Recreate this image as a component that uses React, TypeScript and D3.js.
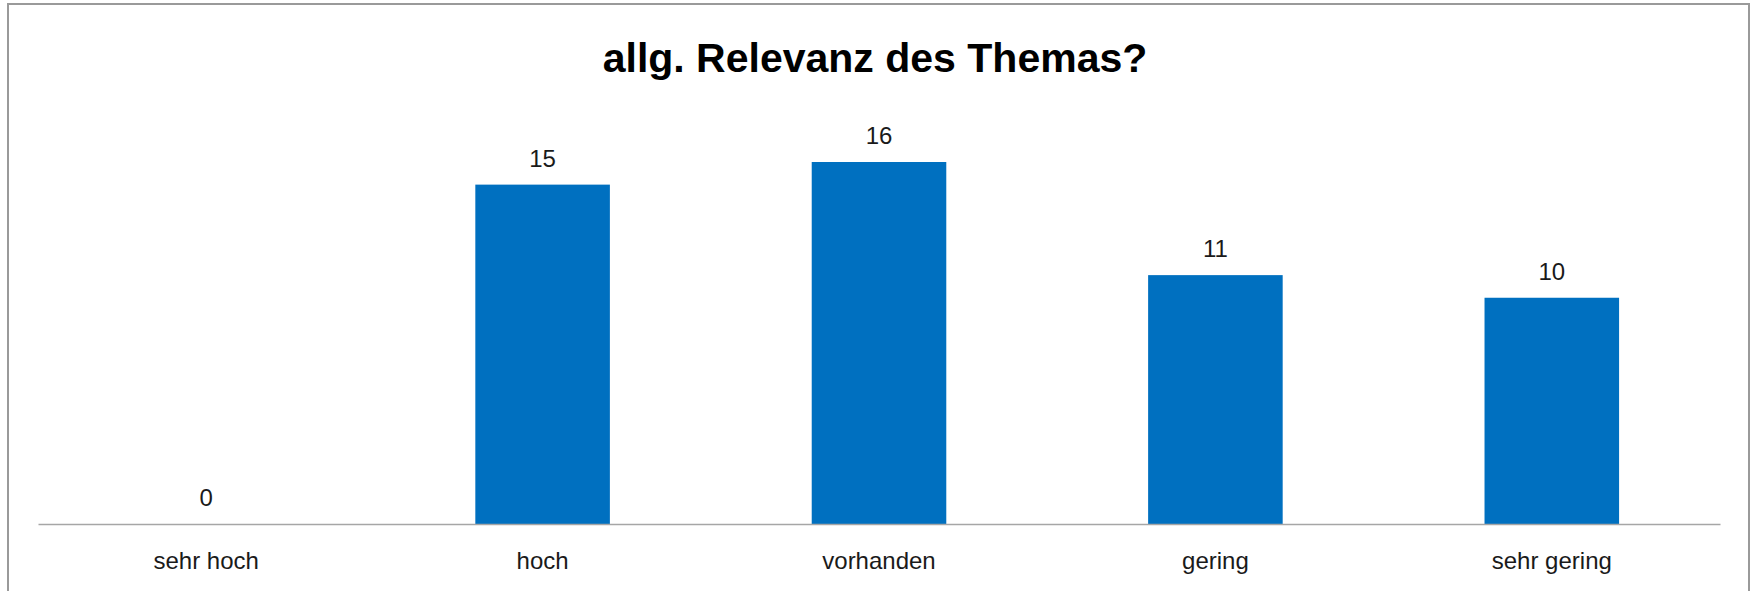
import { useEffect, useRef } from 'react';
import * as d3 from 'd3';

const categories = ['sehr hoch', 'hoch', 'vorhanden', 'gering', 'sehr gering'];
const values = [0, 15, 16, 11, 10];
const title = 'allg. Relevanz des Themas?';

const WIDTH = 1752;
const HEIGHT = 591;

export default function App() {
  const ref = useRef<SVGSVGElement | null>(null);

  useEffect(() => {
    if (!ref.current) return;
    document.body.style.margin = '0';

    const svg = d3.select(ref.current);
    svg.selectAll('*').remove();

    const margin = { top: 117, right: 32, bottom: 67, left: 38 };
    const innerWidth = WIDTH - margin.left - margin.right;
    const baseline = HEIGHT - margin.bottom;

    // Outer frame
    svg
      .append('rect')
      .attr('x', 8)
      .attr('y', 4)
      .attr('width', 1741)
      .attr('height', 600)
      .attr('fill', 'white')
      .attr('stroke', '#9a9a9a')
      .attr('stroke-width', 2);

    const xScale = d3
      .scaleBand<string>()
      .domain(categories)
      .range([margin.left, margin.left + innerWidth])
      .paddingInner(0.6)
      .paddingOuter(0.3);

    const yScale = d3.scaleLinear().domain([0, 16]).range([baseline, 162]);

    // Title
    svg
      .append('text')
      .attr('x', 875)
      .attr('y', 72)
      .attr('text-anchor', 'middle')
      .style('font-family', '"Liberation Sans", Arial, sans-serif')
      .style('font-weight', 'bold')
      .style('font-size', '41px')
      .style('fill', '#000')
      .text(title);

    // Bars
    svg
      .selectAll('.bar')
      .data(values)
      .enter()
      .append('rect')
      .attr('class', 'bar')
      .attr('x', (_, i) => xScale(categories[i]) as number)
      .attr('y', (d) => yScale(d))
      .attr('width', xScale.bandwidth())
      .attr('height', (d) => baseline - yScale(d))
      .attr('fill', '#0070C0');

    // Value labels
    svg
      .selectAll('.value')
      .data(values)
      .enter()
      .append('text')
      .attr('class', 'value')
      .attr('x', (_, i) => (xScale(categories[i]) as number) + xScale.bandwidth() / 2)
      .attr('y', (d) => yScale(d) - 18)
      .attr('text-anchor', 'middle')
      .style('font-family', '"Liberation Sans", Arial, sans-serif')
      .style('font-size', '24px')
      .style('fill', '#1a1a1a')
      .text((d) => d);

    // x axis
    const xAxis = svg
      .append('g')
      .attr('transform', `translate(0, ${baseline})`)
      .call(d3.axisBottom(xScale).tickSize(0).tickPadding(28));

    xAxis.select('.domain').attr('stroke', '#a6a6a6').attr('stroke-width', 1.5);
    xAxis
      .selectAll('text')
      .style('font-family', '"Liberation Sans", Arial, sans-serif')
      .style('font-size', '24px')
      .style('fill', '#1a1a1a');
  }, []);

  return (
    <svg
      ref={ref}
      width={WIDTH}
      height={HEIGHT}
      style={{ position: 'absolute', top: 0, left: 0, background: 'white' }}
    />
  );
}
